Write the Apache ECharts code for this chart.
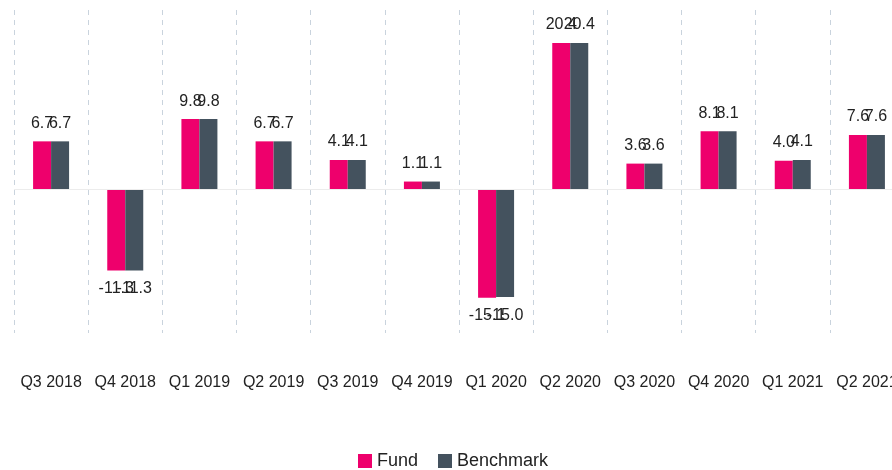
<!DOCTYPE html>
<html>
<head>
<meta charset="utf-8">
<script src="https://cdn.jsdelivr.net/npm/echarts@6/dist/echarts.min.js"></script>
<style>
  html, body { margin: 0; padding: 0; background: #fff; }
  #chart { width: 892px; height: 470px; }
</style>
</head>
<body>
<div id="chart"></div>
<script>
// quarters on the x axis
const quarters = ['Q3 2018', 'Q4 2018', 'Q1 2019', 'Q2 2019', 'Q3 2019', 'Q4 2019',
  'Q1 2020', 'Q2 2020', 'Q3 2020', 'Q4 2020', 'Q1 2021', 'Q2 2021']
// quarterly returns (%)
const fundValues = [6.7, -11.3, 9.8, 6.7, 4.1, 1.1, -15.1, 20.4, 3.6, 8.1, 4.0, 7.6]
const benchmarkValues = [6.7, -11.3, 9.8, 6.7, 4.1, 1.1, -15.0, 20.4, 3.6, 8.1, 4.1, 7.6]

const chart = echarts.init(document.getElementById('chart'))

// negative bars get their label below
const withNegLabels = (arr) => arr.map(v => v < 0
  ? { value: v, label: { position: 'bottom' } }
  : v)

const makeSeries = (name, data, color) => ({
  name: name,
  type: 'bar',
  data: withNegLabels(data),
  barWidth: 18,
  barGap: 0,
  itemStyle: { color: color },
  label: {
    show: true,
    position: 'top',
    distance: 10,
    fontSize: 16,
    color: '#222',
    formatter: p => p.value.toFixed(1)
  }
})

const fundSeries = makeSeries('Fund', fundValues, '#ee006c')
const benchSeries = makeSeries('Benchmark', benchmarkValues, '#44525e')

// zero line
fundSeries.markLine = {
  silent: true,
  symbol: 'none',
  label: { show: false },
  lineStyle: { color: '#ececec', type: 'solid', width: 1 },
  data: [{ yAxis: 0 }]
}

chart.setOption({
  animation: false,
  textStyle: { fontFamily: 'Liberation Sans' },
  grid: {
    left: 14,
    width: 890,
    top: 10,
    height: 323,
    outerBoundsMode: 'none'
  },
  legend: {
    top: 447,
    left: 353,
    icon: 'rect',
    itemWidth: 14,
    itemHeight: 14,
    itemGap: 20,
    textStyle: { fontSize: 18, color: '#222' },
    data: ['Fund', 'Benchmark']
  },
  xAxis: {
    type: 'category',
    data: quarters,
    axisLine: { show: false, onZero: false },
    axisTick: { show: false },
    axisLabel: { margin: 42, fontSize: 16, color: '#222', interval: 0 },
    splitLine: {
      show: true,
      interval: 0,
      lineStyle: { type: [5, 5], color: '#c9d3dd', width: 1 }
    }
  },
  yAxis: {
    type: 'value',
    min: -20,
    max: 25,
    show: false,
    splitLine: { show: false }
  },
  series: [fundSeries, benchSeries]
})
</script>
</body>
</html>
